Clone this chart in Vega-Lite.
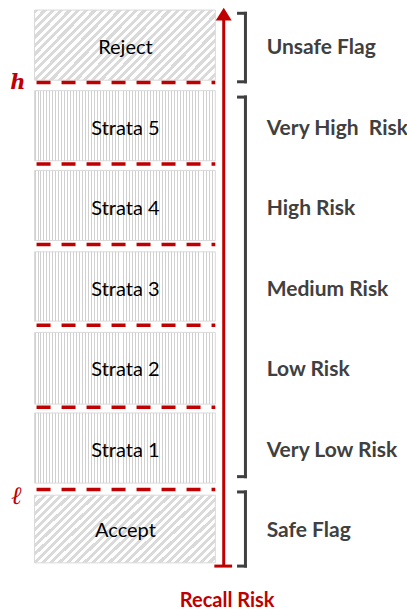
{
  "$schema": "https://vega.github.io/schema/vega-lite/v6.json",
  "width": 407,
  "height": 611,
  "autosize": {"type": "fit", "contains": "padding"},
  "padding": 0,
  "background": "#ffffff",
  "config": {"view": {"stroke": null}},
  "datasets": {
    "boxes": [
      {"name": "Reject", "kind": "flag", "tier": "Unsafe Flag", "lo": 6.03, "hi": 6.9, "mid": 6.43},
      {"name": "Strata 5", "kind": "strata", "tier": "Very High\u00a0 Risk", "lo": 5.03, "hi": 5.9, "mid": 5.43},
      {"name": "Strata 4", "kind": "strata", "tier": "High Risk", "lo": 4.04, "hi": 4.91, "mid": 4.43},
      {"name": "Strata 3", "kind": "strata", "tier": "Medium Risk", "lo": 3.04, "hi": 3.9, "mid": 3.43},
      {"name": "Strata 2", "kind": "strata", "tier": "Low Risk", "lo": 2.01, "hi": 2.9, "mid": 2.43},
      {"name": "Strata 1", "kind": "strata", "tier": "Very Low Risk", "lo": 1.03, "hi": 1.9, "mid": 1.43},
      {"name": "Accept", "kind": "flag", "tier": "Safe Flag", "lo": 0.04, "hi": 0.88, "mid": 0.44}
    ],
    "thresholds": [
      {"at": 6.0, "symbol": "h", "labelAt": 5.99},
      {"at": 4.99, "symbol": "", "labelAt": 4.99},
      {"at": 3.99, "symbol": "", "labelAt": 3.99},
      {"at": 2.99, "symbol": "", "labelAt": 2.99},
      {"at": 1.97, "symbol": "", "labelAt": 1.97},
      {"at": 0.95, "symbol": "ℓ", "labelAt": 0.87}
    ],
    "brackets": [
      {"group": "Unsafe Flag", "lo": 6.01, "hi": 6.86},
      {"group": "Risk strata", "lo": 1.11, "hi": 5.82},
      {"group": "Safe Flag", "lo": 0.0, "hi": 0.92}
    ],
    "riskAxis": [
      {"title": "Recall Risk", "from": 0.0, "to": 6.85, "titleAt": -0.43}
    ]
  },
  "encoding": {
    "y": {"type": "quantitative", "scale": {"domain": [-0.545, 7.025], "nice": false, "zero": false}, "axis": null},
    "x": {"type": "quantitative", "scale": {"domain": [0, 407], "nice": false, "zero": false}, "axis": null}
  },
  "layer": [
    {
      "data": {"name": "boxes"},
      "transform": [{"filter": "datum.kind == 'strata'"}],
      "mark": {
        "type": "rect",
        "stroke": "#d9d9d9",
        "strokeWidth": 1,
        "fill": {
          "gradient": "linear", "x1": 0, "y1": 0, "x2": 1, "y2": 0,
          "stops": [
            {"offset":0,"color":"#d0d0d0"},{"offset":0.00546,"color":"#d0d0d0"},{"offset":0.00546,"color":"#fff"},{"offset":0.01639,"color":"#fff"},
            {"offset":0.01639,"color":"#d0d0d0"},{"offset":0.02185,"color":"#d0d0d0"},{"offset":0.02185,"color":"#fff"},{"offset":0.03279,"color":"#fff"},
            {"offset":0.03279,"color":"#d0d0d0"},{"offset":0.03825,"color":"#d0d0d0"},{"offset":0.03825,"color":"#fff"},{"offset":0.04918,"color":"#fff"},
            {"offset":0.04918,"color":"#d0d0d0"},{"offset":0.05464,"color":"#d0d0d0"},{"offset":0.05464,"color":"#fff"},{"offset":0.06557,"color":"#fff"},
            {"offset":0.06557,"color":"#d0d0d0"},{"offset":0.07103,"color":"#d0d0d0"},{"offset":0.07103,"color":"#fff"},{"offset":0.08197,"color":"#fff"},
            {"offset":0.08197,"color":"#d0d0d0"},{"offset":0.08743,"color":"#d0d0d0"},{"offset":0.08743,"color":"#fff"},{"offset":0.09836,"color":"#fff"},
            {"offset":0.09836,"color":"#d0d0d0"},{"offset":0.10382,"color":"#d0d0d0"},{"offset":0.10382,"color":"#fff"},{"offset":0.11475,"color":"#fff"},
            {"offset":0.11475,"color":"#d0d0d0"},{"offset":0.12021,"color":"#d0d0d0"},{"offset":0.12021,"color":"#fff"},{"offset":0.13115,"color":"#fff"},
            {"offset":0.13115,"color":"#d0d0d0"},{"offset":0.13661,"color":"#d0d0d0"},{"offset":0.13661,"color":"#fff"},{"offset":0.14754,"color":"#fff"},
            {"offset":0.14754,"color":"#d0d0d0"},{"offset":0.153,"color":"#d0d0d0"},{"offset":0.153,"color":"#fff"},{"offset":0.16393,"color":"#fff"},
            {"offset":0.16393,"color":"#d0d0d0"},{"offset":0.16939,"color":"#d0d0d0"},{"offset":0.16939,"color":"#fff"},{"offset":0.18033,"color":"#fff"},
            {"offset":0.18033,"color":"#d0d0d0"},{"offset":0.18579,"color":"#d0d0d0"},{"offset":0.18579,"color":"#fff"},{"offset":0.19672,"color":"#fff"},
            {"offset":0.19672,"color":"#d0d0d0"},{"offset":0.20218,"color":"#d0d0d0"},{"offset":0.20218,"color":"#fff"},{"offset":0.21311,"color":"#fff"},
            {"offset":0.21311,"color":"#d0d0d0"},{"offset":0.21857,"color":"#d0d0d0"},{"offset":0.21857,"color":"#fff"},{"offset":0.22951,"color":"#fff"},
            {"offset":0.22951,"color":"#d0d0d0"},{"offset":0.23497,"color":"#d0d0d0"},{"offset":0.23497,"color":"#fff"},{"offset":0.2459,"color":"#fff"},
            {"offset":0.2459,"color":"#d0d0d0"},{"offset":0.25136,"color":"#d0d0d0"},{"offset":0.25136,"color":"#fff"},{"offset":0.2623,"color":"#fff"},
            {"offset":0.2623,"color":"#d0d0d0"},{"offset":0.26776,"color":"#d0d0d0"},{"offset":0.26776,"color":"#fff"},{"offset":0.27869,"color":"#fff"},
            {"offset":0.27869,"color":"#d0d0d0"},{"offset":0.28415,"color":"#d0d0d0"},{"offset":0.28415,"color":"#fff"},{"offset":0.29508,"color":"#fff"},
            {"offset":0.29508,"color":"#d0d0d0"},{"offset":0.30054,"color":"#d0d0d0"},{"offset":0.30054,"color":"#fff"},{"offset":0.31148,"color":"#fff"},
            {"offset":0.31148,"color":"#d0d0d0"},{"offset":0.31694,"color":"#d0d0d0"},{"offset":0.31694,"color":"#fff"},{"offset":0.32787,"color":"#fff"},
            {"offset":0.32787,"color":"#d0d0d0"},{"offset":0.33333,"color":"#d0d0d0"},{"offset":0.33333,"color":"#fff"},{"offset":0.34426,"color":"#fff"},
            {"offset":0.34426,"color":"#d0d0d0"},{"offset":0.34972,"color":"#d0d0d0"},{"offset":0.34972,"color":"#fff"},{"offset":0.36066,"color":"#fff"},
            {"offset":0.36066,"color":"#d0d0d0"},{"offset":0.36612,"color":"#d0d0d0"},{"offset":0.36612,"color":"#fff"},{"offset":0.37705,"color":"#fff"},
            {"offset":0.37705,"color":"#d0d0d0"},{"offset":0.38251,"color":"#d0d0d0"},{"offset":0.38251,"color":"#fff"},{"offset":0.39344,"color":"#fff"},
            {"offset":0.39344,"color":"#d0d0d0"},{"offset":0.3989,"color":"#d0d0d0"},{"offset":0.3989,"color":"#fff"},{"offset":0.40984,"color":"#fff"},
            {"offset":0.40984,"color":"#d0d0d0"},{"offset":0.4153,"color":"#d0d0d0"},{"offset":0.4153,"color":"#fff"},{"offset":0.42623,"color":"#fff"},
            {"offset":0.42623,"color":"#d0d0d0"},{"offset":0.43169,"color":"#d0d0d0"},{"offset":0.43169,"color":"#fff"},{"offset":0.44262,"color":"#fff"},
            {"offset":0.44262,"color":"#d0d0d0"},{"offset":0.44808,"color":"#d0d0d0"},{"offset":0.44808,"color":"#fff"},{"offset":0.45902,"color":"#fff"},
            {"offset":0.45902,"color":"#d0d0d0"},{"offset":0.46448,"color":"#d0d0d0"},{"offset":0.46448,"color":"#fff"},{"offset":0.47541,"color":"#fff"},
            {"offset":0.47541,"color":"#d0d0d0"},{"offset":0.48087,"color":"#d0d0d0"},{"offset":0.48087,"color":"#fff"},{"offset":0.4918,"color":"#fff"},
            {"offset":0.4918,"color":"#d0d0d0"},{"offset":0.49726,"color":"#d0d0d0"},{"offset":0.49726,"color":"#fff"},{"offset":0.5082,"color":"#fff"},
            {"offset":0.5082,"color":"#d0d0d0"},{"offset":0.51366,"color":"#d0d0d0"},{"offset":0.51366,"color":"#fff"},{"offset":0.52459,"color":"#fff"},
            {"offset":0.52459,"color":"#d0d0d0"},{"offset":0.53005,"color":"#d0d0d0"},{"offset":0.53005,"color":"#fff"},{"offset":0.54098,"color":"#fff"},
            {"offset":0.54098,"color":"#d0d0d0"},{"offset":0.54644,"color":"#d0d0d0"},{"offset":0.54644,"color":"#fff"},{"offset":0.55738,"color":"#fff"},
            {"offset":0.55738,"color":"#d0d0d0"},{"offset":0.56284,"color":"#d0d0d0"},{"offset":0.56284,"color":"#fff"},{"offset":0.57377,"color":"#fff"},
            {"offset":0.57377,"color":"#d0d0d0"},{"offset":0.57923,"color":"#d0d0d0"},{"offset":0.57923,"color":"#fff"},{"offset":0.59016,"color":"#fff"},
            {"offset":0.59016,"color":"#d0d0d0"},{"offset":0.59562,"color":"#d0d0d0"},{"offset":0.59562,"color":"#fff"},{"offset":0.60656,"color":"#fff"},
            {"offset":0.60656,"color":"#d0d0d0"},{"offset":0.61202,"color":"#d0d0d0"},{"offset":0.61202,"color":"#fff"},{"offset":0.62295,"color":"#fff"},
            {"offset":0.62295,"color":"#d0d0d0"},{"offset":0.62841,"color":"#d0d0d0"},{"offset":0.62841,"color":"#fff"},{"offset":0.63934,"color":"#fff"},
            {"offset":0.63934,"color":"#d0d0d0"},{"offset":0.6448,"color":"#d0d0d0"},{"offset":0.6448,"color":"#fff"},{"offset":0.65574,"color":"#fff"},
            {"offset":0.65574,"color":"#d0d0d0"},{"offset":0.6612,"color":"#d0d0d0"},{"offset":0.6612,"color":"#fff"},{"offset":0.67213,"color":"#fff"},
            {"offset":0.67213,"color":"#d0d0d0"},{"offset":0.67759,"color":"#d0d0d0"},{"offset":0.67759,"color":"#fff"},{"offset":0.68852,"color":"#fff"},
            {"offset":0.68852,"color":"#d0d0d0"},{"offset":0.69398,"color":"#d0d0d0"},{"offset":0.69398,"color":"#fff"},{"offset":0.70492,"color":"#fff"},
            {"offset":0.70492,"color":"#d0d0d0"},{"offset":0.71038,"color":"#d0d0d0"},{"offset":0.71038,"color":"#fff"},{"offset":0.72131,"color":"#fff"},
            {"offset":0.72131,"color":"#d0d0d0"},{"offset":0.72677,"color":"#d0d0d0"},{"offset":0.72677,"color":"#fff"},{"offset":0.7377,"color":"#fff"},
            {"offset":0.7377,"color":"#d0d0d0"},{"offset":0.74316,"color":"#d0d0d0"},{"offset":0.74316,"color":"#fff"},{"offset":0.7541,"color":"#fff"},
            {"offset":0.7541,"color":"#d0d0d0"},{"offset":0.75956,"color":"#d0d0d0"},{"offset":0.75956,"color":"#fff"},{"offset":0.77049,"color":"#fff"},
            {"offset":0.77049,"color":"#d0d0d0"},{"offset":0.77595,"color":"#d0d0d0"},{"offset":0.77595,"color":"#fff"},{"offset":0.78689,"color":"#fff"},
            {"offset":0.78689,"color":"#d0d0d0"},{"offset":0.79235,"color":"#d0d0d0"},{"offset":0.79235,"color":"#fff"},{"offset":0.80328,"color":"#fff"},
            {"offset":0.80328,"color":"#d0d0d0"},{"offset":0.80874,"color":"#d0d0d0"},{"offset":0.80874,"color":"#fff"},{"offset":0.81967,"color":"#fff"},
            {"offset":0.81967,"color":"#d0d0d0"},{"offset":0.82513,"color":"#d0d0d0"},{"offset":0.82513,"color":"#fff"},{"offset":0.83607,"color":"#fff"},
            {"offset":0.83607,"color":"#d0d0d0"},{"offset":0.84153,"color":"#d0d0d0"},{"offset":0.84153,"color":"#fff"},{"offset":0.85246,"color":"#fff"},
            {"offset":0.85246,"color":"#d0d0d0"},{"offset":0.85792,"color":"#d0d0d0"},{"offset":0.85792,"color":"#fff"},{"offset":0.86885,"color":"#fff"},
            {"offset":0.86885,"color":"#d0d0d0"},{"offset":0.87431,"color":"#d0d0d0"},{"offset":0.87431,"color":"#fff"},{"offset":0.88525,"color":"#fff"},
            {"offset":0.88525,"color":"#d0d0d0"},{"offset":0.89071,"color":"#d0d0d0"},{"offset":0.89071,"color":"#fff"},{"offset":0.90164,"color":"#fff"},
            {"offset":0.90164,"color":"#d0d0d0"},{"offset":0.9071,"color":"#d0d0d0"},{"offset":0.9071,"color":"#fff"},{"offset":0.91803,"color":"#fff"},
            {"offset":0.91803,"color":"#d0d0d0"},{"offset":0.92349,"color":"#d0d0d0"},{"offset":0.92349,"color":"#fff"},{"offset":0.93443,"color":"#fff"},
            {"offset":0.93443,"color":"#d0d0d0"},{"offset":0.93989,"color":"#d0d0d0"},{"offset":0.93989,"color":"#fff"},{"offset":0.95082,"color":"#fff"},
            {"offset":0.95082,"color":"#d0d0d0"},{"offset":0.95628,"color":"#d0d0d0"},{"offset":0.95628,"color":"#fff"},{"offset":0.96721,"color":"#fff"},
            {"offset":0.96721,"color":"#d0d0d0"},{"offset":0.97267,"color":"#d0d0d0"},{"offset":0.97267,"color":"#fff"},{"offset":0.98361,"color":"#fff"},
            {"offset":0.98361,"color":"#d0d0d0"},{"offset":0.98907,"color":"#d0d0d0"},{"offset":0.98907,"color":"#fff"},{"offset":1,"color":"#fff"}
          ]
        }
      },
      "encoding": {
        "x": {"datum": 35},
        "x2": {"datum": 218},
        "y": {"field": "hi", "type": "quantitative"},
        "y2": {"field": "lo"}
      }
    },
    {
      "data": {"name": "boxes"},
      "transform": [{"filter": "datum.kind == 'flag'"}],
      "mark": {
        "type": "rect",
        "stroke": "#d9d9d9",
        "strokeWidth": 1,
        "fill": {
          "gradient": "linear", "x1": 0, "y1": 0, "x2": 1.206, "y2": 0.4613,
          "stops": [
            {"offset":0,"color":"#dadada"},{"offset":0.0167,"color":"#dadada"},{"offset":0.0167,"color":"#fff"},{"offset":0.0333,"color":"#fff"},
            {"offset":0.0333,"color":"#dadada"},{"offset":0.05,"color":"#dadada"},{"offset":0.05,"color":"#fff"},{"offset":0.0667,"color":"#fff"},
            {"offset":0.0667,"color":"#dadada"},{"offset":0.0833,"color":"#dadada"},{"offset":0.0833,"color":"#fff"},{"offset":0.1,"color":"#fff"},
            {"offset":0.1,"color":"#dadada"},{"offset":0.1167,"color":"#dadada"},{"offset":0.1167,"color":"#fff"},{"offset":0.1333,"color":"#fff"},
            {"offset":0.1333,"color":"#dadada"},{"offset":0.15,"color":"#dadada"},{"offset":0.15,"color":"#fff"},{"offset":0.1667,"color":"#fff"},
            {"offset":0.1667,"color":"#dadada"},{"offset":0.1833,"color":"#dadada"},{"offset":0.1833,"color":"#fff"},{"offset":0.2,"color":"#fff"},
            {"offset":0.2,"color":"#dadada"},{"offset":0.2167,"color":"#dadada"},{"offset":0.2167,"color":"#fff"},{"offset":0.2333,"color":"#fff"},
            {"offset":0.2333,"color":"#dadada"},{"offset":0.25,"color":"#dadada"},{"offset":0.25,"color":"#fff"},{"offset":0.2667,"color":"#fff"},
            {"offset":0.2667,"color":"#dadada"},{"offset":0.2833,"color":"#dadada"},{"offset":0.2833,"color":"#fff"},{"offset":0.3,"color":"#fff"},
            {"offset":0.3,"color":"#dadada"},{"offset":0.3167,"color":"#dadada"},{"offset":0.3167,"color":"#fff"},{"offset":0.3333,"color":"#fff"},
            {"offset":0.3333,"color":"#dadada"},{"offset":0.35,"color":"#dadada"},{"offset":0.35,"color":"#fff"},{"offset":0.3667,"color":"#fff"},
            {"offset":0.3667,"color":"#dadada"},{"offset":0.3833,"color":"#dadada"},{"offset":0.3833,"color":"#fff"},{"offset":0.4,"color":"#fff"},
            {"offset":0.4,"color":"#dadada"},{"offset":0.4167,"color":"#dadada"},{"offset":0.4167,"color":"#fff"},{"offset":0.4333,"color":"#fff"},
            {"offset":0.4333,"color":"#dadada"},{"offset":0.45,"color":"#dadada"},{"offset":0.45,"color":"#fff"},{"offset":0.4667,"color":"#fff"},
            {"offset":0.4667,"color":"#dadada"},{"offset":0.4833,"color":"#dadada"},{"offset":0.4833,"color":"#fff"},{"offset":0.5,"color":"#fff"},
            {"offset":0.5,"color":"#dadada"},{"offset":0.5167,"color":"#dadada"},{"offset":0.5167,"color":"#fff"},{"offset":0.5333,"color":"#fff"},
            {"offset":0.5333,"color":"#dadada"},{"offset":0.55,"color":"#dadada"},{"offset":0.55,"color":"#fff"},{"offset":0.5667,"color":"#fff"},
            {"offset":0.5667,"color":"#dadada"},{"offset":0.5833,"color":"#dadada"},{"offset":0.5833,"color":"#fff"},{"offset":0.6,"color":"#fff"},
            {"offset":0.6,"color":"#dadada"},{"offset":0.6167,"color":"#dadada"},{"offset":0.6167,"color":"#fff"},{"offset":0.6333,"color":"#fff"},
            {"offset":0.6333,"color":"#dadada"},{"offset":0.65,"color":"#dadada"},{"offset":0.65,"color":"#fff"},{"offset":0.6667,"color":"#fff"},
            {"offset":0.6667,"color":"#dadada"},{"offset":0.6833,"color":"#dadada"},{"offset":0.6833,"color":"#fff"},{"offset":0.7,"color":"#fff"},
            {"offset":0.7,"color":"#dadada"},{"offset":0.7167,"color":"#dadada"},{"offset":0.7167,"color":"#fff"},{"offset":0.7333,"color":"#fff"},
            {"offset":0.7333,"color":"#dadada"},{"offset":0.75,"color":"#dadada"},{"offset":0.75,"color":"#fff"},{"offset":0.7667,"color":"#fff"},
            {"offset":0.7667,"color":"#dadada"},{"offset":0.7833,"color":"#dadada"},{"offset":0.7833,"color":"#fff"},{"offset":0.8,"color":"#fff"},
            {"offset":0.8,"color":"#dadada"},{"offset":0.8167,"color":"#dadada"},{"offset":0.8167,"color":"#fff"},{"offset":0.8333,"color":"#fff"},
            {"offset":0.8333,"color":"#dadada"},{"offset":0.85,"color":"#dadada"},{"offset":0.85,"color":"#fff"},{"offset":0.8667,"color":"#fff"},
            {"offset":0.8667,"color":"#dadada"},{"offset":0.8833,"color":"#dadada"},{"offset":0.8833,"color":"#fff"},{"offset":0.9,"color":"#fff"},
            {"offset":0.9,"color":"#dadada"},{"offset":0.9167,"color":"#dadada"},{"offset":0.9167,"color":"#fff"},{"offset":0.9333,"color":"#fff"},
            {"offset":0.9333,"color":"#dadada"},{"offset":0.95,"color":"#dadada"},{"offset":0.95,"color":"#fff"},{"offset":0.9667,"color":"#fff"},
            {"offset":0.9667,"color":"#dadada"},{"offset":0.9833,"color":"#dadada"},{"offset":0.9833,"color":"#fff"},{"offset":1,"color":"#fff"}
          ]
        }
      },
      "encoding": {
        "x": {"datum": 35},
        "x2": {"datum": 218},
        "y": {"field": "hi", "type": "quantitative"},
        "y2": {"field": "lo"}
      }
    },
    {
      "data": {"name": "boxes"},
      "mark": {"type": "text", "font": "Lato", "fontSize": 20, "color": "#000000", "align": "center", "baseline": "middle"},
      "encoding": {
        "x": {"datum": 127},
        "y": {"field": "mid", "type": "quantitative"},
        "text": {"field": "name"}
      }
    },
    {
      "data": {"name": "boxes"},
      "mark": {"type": "text", "font": "Lato", "fontSize": 21, "fontWeight": "bold", "color": "#404040", "align": "left", "baseline": "middle"},
      "encoding": {
        "x": {"datum": 270},
        "y": {"field": "mid", "type": "quantitative"},
        "text": {"field": "tier"}
      }
    },
    {
      "data": {"name": "thresholds"},
      "mark": {"type": "rule", "color": "#C00000", "strokeWidth": 3.5, "strokeDash": [14, 11], "strokeCap": "butt"},
      "encoding": {
        "x": {"datum": 37},
        "x2": {"datum": 218},
        "y": {"field": "at", "type": "quantitative"}
      }
    },
    {
      "data": {"name": "thresholds"},
      "transform": [{"filter": "datum.symbol == 'h'"}],
      "mark": {"type": "text", "font": "DejaVu Serif", "fontSize": 21, "fontWeight": "bold", "fontStyle": "italic", "color": "#C00000", "align": "center", "baseline": "middle"},
      "encoding": {
        "x": {"datum": 18},
        "y": {"field": "labelAt", "type": "quantitative"},
        "text": {"field": "symbol"}
      }
    },
    {
      "data": {"name": "thresholds"},
      "transform": [{"filter": "datum.symbol == 'ℓ'"}],
      "mark": {"type": "text", "font": "DejaVu Serif", "fontSize": 25, "fontWeight": "bold", "fontStyle": "italic", "color": "#C00000", "align": "center", "baseline": "middle"},
      "encoding": {
        "x": {"datum": 17},
        "y": {"field": "labelAt", "type": "quantitative"},
        "text": {"field": "symbol"}
      }
    },
    {
      "data": {"name": "riskAxis"},
      "mark": {"type": "rule", "color": "#C00000", "strokeWidth": 3},
      "encoding": {
        "x": {"datum": 226.5},
        "y": {"field": "from", "type": "quantitative"},
        "y2": {"field": "to"}
      }
    },
    {
      "data": {"name": "riskAxis"},
      "mark": {"type": "rule", "color": "#C00000", "strokeWidth": 3},
      "encoding": {
        "x": {"datum": 217},
        "x2": {"datum": 235},
        "y": {"field": "from", "type": "quantitative"}
      }
    },
    {
      "data": {"name": "riskAxis"},
      "mark": {"type": "point", "shape": "M0,-0.8L1,0.8L-1,0.8Z", "size": 256, "filled": true, "color": "#C00000", "opacity": 1, "strokeWidth": 0},
      "encoding": {
        "x": {"datum": 226.5},
        "y": {"field": "to", "type": "quantitative"}
      }
    },
    {
      "data": {"name": "riskAxis"},
      "mark": {"type": "text", "font": "Lato", "fontSize": 20, "fontWeight": "bold", "color": "#C00000", "align": "center", "baseline": "middle"},
      "encoding": {
        "x": {"datum": 230},
        "y": {"field": "titleAt", "type": "quantitative"},
        "text": {"field": "title"}
      }
    },
    {
      "data": {"name": "brackets"},
      "mark": {"type": "rule", "color": "#404040", "strokeWidth": 3, "strokeCap": "square"},
      "encoding": {
        "x": {"datum": 248.5},
        "y": {"field": "lo", "type": "quantitative"},
        "y2": {"field": "hi"}
      }
    },
    {
      "data": {"name": "brackets"},
      "mark": {"type": "rule", "color": "#404040", "strokeWidth": 3, "strokeCap": "square"},
      "encoding": {
        "x": {"datum": 241.5},
        "x2": {"datum": 248.5},
        "y": {"field": "hi", "type": "quantitative"}
      }
    },
    {
      "data": {"name": "brackets"},
      "mark": {"type": "rule", "color": "#404040", "strokeWidth": 3, "strokeCap": "square"},
      "encoding": {
        "x": {"datum": 241.5},
        "x2": {"datum": 248.5},
        "y": {"field": "lo", "type": "quantitative"}
      }
    }
  ]
}
